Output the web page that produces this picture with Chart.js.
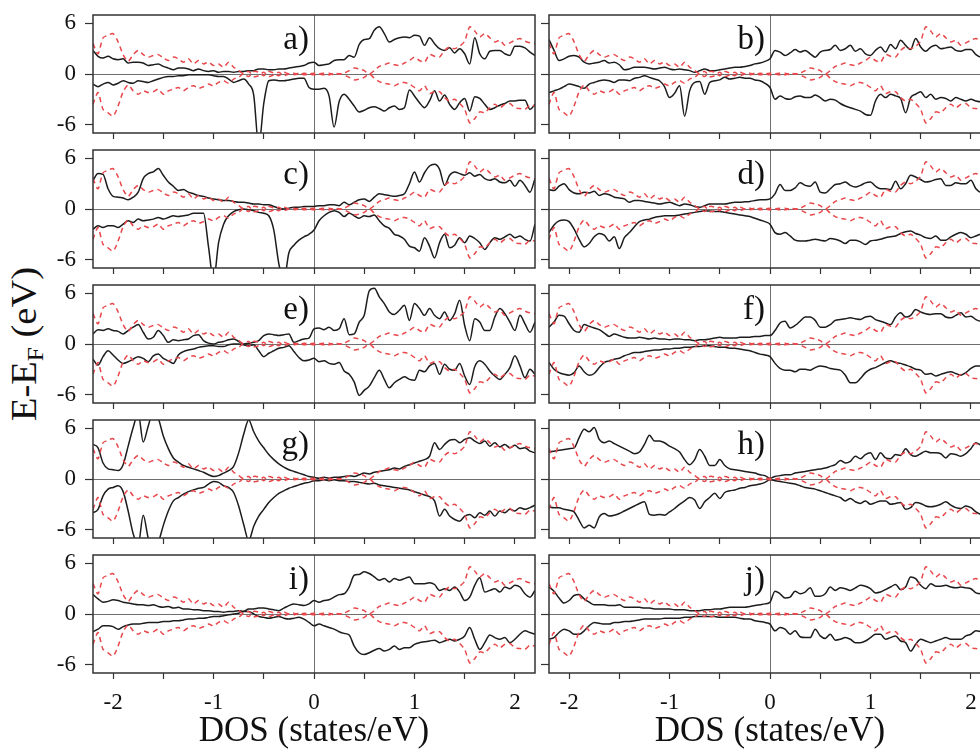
<!DOCTYPE html>
<html>
<head>
<meta charset="utf-8">
<script src="https://cdn.jsdelivr.net/npm/chart.js@4.4.1/dist/chart.umd.min.js"></script>
<style>
  html, body { margin: 0; padding: 0; background: #fff; width: 980px; height: 749px; overflow: hidden; }
  canvas { position: absolute; }
  #ytitle {
    position: absolute; left: 27px; top: 344px;
    transform: translate(-50%, -50%) rotate(-90deg) scaleX(1.1);
    font-family: 'Liberation Serif', 'Times New Roman', serif; font-size: 35px; color: #111;
    white-space: nowrap; line-height: 1;
  }
  #ytitle sub { font-size: 23px; vertical-align: -7px; }
</style>
</head>
<body>
<div id="ytitle">E-E<sub>F</sub> (eV)</div>
<script>
// x grid (DOS axis), shared by every curve
const dos = [
  -2.2, -2.15, -2.1, -2.05, -2.0, -1.95, -1.9, -1.85, -1.8, -1.75,
  -1.7, -1.65, -1.6, -1.55, -1.5, -1.45, -1.4, -1.35, -1.3, -1.25,
  -1.2, -1.15, -1.1, -1.05, -1.0, -0.95, -0.9, -0.85, -0.8, -0.75,
  -0.7, -0.65, -0.6, -0.55, -0.5, -0.45, -0.4, -0.35, -0.3, -0.25,
  -0.2, -0.15, -0.1, -0.05, 0, 0.05, 0.1, 0.15, 0.2, 0.25,
  0.3, 0.35, 0.4, 0.45, 0.5, 0.55, 0.6, 0.65, 0.7, 0.75,
  0.8, 0.85, 0.9, 0.95, 1.0, 1.05, 1.1, 1.15, 1.2, 1.25,
  1.3, 1.35, 1.4, 1.45, 1.5, 1.55, 1.6, 1.65, 1.7, 1.75,
  1.8, 1.85, 1.9, 1.95, 2.0, 2.05, 2.1, 2.15, 2.2
];
const xTicks = [-2, -1.5, -1, -0.5, 0, 0.5, 1, 1.5, 2];
const yTicks = [-6, -3, 0, 3, 6];
const panelLabels = ['a)', 'b)', 'c)', 'd)', 'e)', 'f)', 'g)', 'h)', 'i)', 'j)'];

// red dashed reference curves (same in every panel)
const redUp = [
  3.6, 2.4, 4.3, 4.6, 4.8, 3.8, 2.3, 1.5, 2.3, 2.8,
  2.3, 2.0, 2.2, 2.3, 1.9, 1.6, 2.0, 1.8, 1.4, 1.8,
  1.2, 1.6, 1.2, 1.4, 1.0, 1.2, 0.8, 1.4, 0.8, 0.4,
  0.0, -0.3, 0.3, 0.2, -0.2, 0.3, 0.1, -0.2, 0.2, 0.0,
  0.1, -0.1, 0.1, 0.0, 0.1, 0.0, 0.1, -0.1, 0.1, 0.0,
  0.1, 0.4, 0.7, 0.6, 0.4, 0.0, 0.4, 0.9, 1.1, 1.3,
  1.1, 1.0, 1.3, 1.6, 2.0, 1.6, 1.4, 2.3, 2.1, 2.0,
  2.8, 3.2, 3.0, 3.3, 3.9, 5.6, 5.1, 4.4, 4.8, 4.3,
  3.8, 4.0, 3.4, 3.7, 4.0, 4.2, 3.9, 3.7, 3.6
];
const redDn = [
  -3.6, -2.2, -4.2, -4.6, -5.0, -3.8, -2.1, -1.3, -2.0, -2.4,
  -2.0, -2.2, -2.1, -1.8, -2.4, -2.0, -1.8, -1.6, -2.0, -1.6,
  -1.4, -1.7, -1.5, -1.2, -1.4, -1.0, -0.8, -1.1, -0.6, -0.4,
  0.1, 0.3, -0.3, -0.2, 0.2, -0.3, -0.1, 0.2, -0.2, 0.0,
  -0.1, 0.1, -0.1, 0.0, -0.1, 0.0, -0.1, 0.1, -0.1, 0.0,
  -0.1, -0.4, -0.7, -0.6, -0.4, 0.0, -0.5, -0.9, -1.1, -1.2,
  -1.4, -1.1, -1.0, -1.2, -1.6, -2.0, -1.4, -2.3, -2.1, -2.1,
  -2.8, -3.2, -3.0, -3.5, -4.2, -5.8, -5.3, -4.5, -4.6, -4.0,
  -3.6, -4.0, -3.6, -3.5, -4.0, -4.1, -4.2, -3.7, -3.8
];

// black curves, one pair per panel
const aUp = [
  2.8, 2.1, 1.9, 2.1, 1.8, 1.7, 1.8, 1.3, 1.4, 1.4,
  1.3, 1.0, 1.1, 1.2, 0.9, 0.7, 0.5, 0.7, 0.7, 0.6,
  0.4, 0.6, 0.4, 0.3, 0.4, 0.2, 0.3, 0.3, 0.2, 0.3,
  0.3, 0.4, 0.4, 0.6, 0.6, 0.5, 0.5, 0.6, 0.6, 0.7,
  0.8, 0.9, 1.0, 1.3, 1.4, 1.0, 1.1, 1.2, 1.6, 1.7,
  1.7, 2.2, 2.0, 3.5, 4.1, 4.2, 5.2, 5.6, 4.8, 3.8,
  4.1, 4.3, 4.4, 4.3, 4.6, 4.5, 3.4, 4.3, 3.6, 3.0,
  2.8, 3.1, 2.5, 3.0, 2.4, 1.2, 4.3, 2.4, 1.8, 2.7,
  2.8, 2.8, 2.4, 2.2, 3.3, 3.3, 3.1, 2.6, 2.2
];
const aDn = [
  -1.2, -1.5, -1.2, -1.0, -1.3, -1.1, -0.8, -1.0, -1.1, -0.8,
  -0.9, -1.0, -0.8, -0.6, -0.4, -0.3, -0.3, -0.2, -0.2, -0.1,
  -0.1, -0.1, -0.1, -0.1, -0.2, -0.3, -0.3, -0.6, -1.0, -0.8,
  -0.6, -1.2, -2.5, -8.5, -3.5, -0.8, -0.7, -0.8, -0.8, -0.7,
  -0.6, -0.5, -0.5, -1.6, -1.8, -1.8, -1.7, -2.6, -6.3, -3.3,
  -2.4, -3.0, -3.8, -4.5, -4.3, -4.0, -3.9, -4.1, -4.4, -4.0,
  -3.8, -4.2, -4.0, -1.9, -2.6, -3.4, -4.0, -3.2, -2.0, -3.2,
  -2.5, -3.6, -4.2, -3.4, -2.9, -4.4, -2.7, -2.9, -3.6, -4.2,
  -4.0, -3.7, -3.5, -3.2, -3.2, -3.1, -3.1, -4.2, -3.6
];
const bUp = [
  4.1, 2.8, 1.6, 1.8, 2.1, 2.2, 2.0, 1.4, 1.2, 1.3,
  1.4, 1.6, 1.3, 1.4, 1.1, 0.5, 0.6, 0.8, 0.8, 0.8,
  0.7, 0.6, 0.7, 0.8, 0.6, 0.5, 0.6, 0.5, 0.4, 0.2,
  0.4, 0.6, 0.4, 0.4, 0.5, 0.6, 0.7, 0.8, 0.8, 0.9,
  1.0, 1.2, 1.3, 1.5, 1.8, 2.8, 2.6, 2.2, 2.5, 2.9,
  2.6, 2.8, 2.4, 2.0, 2.6, 2.8, 2.9, 3.4, 2.8, 3.0,
  3.4, 2.7, 3.0, 2.4, 2.2, 2.8, 3.2, 2.6, 3.5, 3.0,
  4.0, 3.4, 2.9, 4.2, 3.2, 2.7, 3.2, 3.4, 3.0, 3.1,
  3.2, 2.8, 2.7, 2.9, 2.9, 2.3, 2.0, 2.2, 2.4
];
const bDn = [
  -2.2, -2.0, -1.8, -1.5, -1.2, -1.3, -1.5, -1.7, -1.2, -1.0,
  -0.8, -0.7, -0.8, -1.0, -0.7, -0.7, -0.8, -0.5, -0.4, -0.2,
  -0.4, -0.6, -0.8, -1.5, -2.8, -2.3, -1.4, -5.0, -2.0, -1.0,
  -0.9, -2.4, -1.0, -0.8, -0.7, -0.4, -0.6, -0.5, -0.4, -0.5,
  -0.5, -0.7, -0.8, -1.1, -1.6, -3.0, -2.6, -2.9, -3.0, -2.7,
  -2.6, -2.8, -2.8, -2.5, -2.8, -3.2, -3.0, -3.1, -3.5, -3.8,
  -4.0, -4.2, -4.4, -4.8, -4.9, -3.2, -2.4, -2.8, -2.4, -2.6,
  -2.9, -4.6, -2.8, -2.4, -2.1, -2.8, -2.4, -3.0, -2.8, -2.9,
  -3.2, -2.8, -3.0, -3.2, -3.0, -3.2, -3.3, -3.2, -3.1
];
const cUp = [
  3.4, 4.2, 4.1, 2.4, 1.5, 1.4, 1.3, 1.1, 1.4, 2.0,
  3.6, 4.2, 4.4, 4.8, 4.0, 3.2, 2.7, 2.2, 2.3, 2.0,
  1.8, 1.6, 1.5, 1.3, 1.2, 1.1, 1.0, 1.0, 0.9, 0.8,
  0.8, 0.7, 0.6, 0.6, 0.5, 0.5, 0.3, 0.1, 0.0, 0.1,
  0.2, 0.2, 0.3, 0.3, 0.3, 0.4, 0.4, 0.5, 0.5, 0.4,
  0.8, 0.5, 0.8, 1.1, 1.2, 0.9, 1.4, 1.8, 1.7, 1.6,
  1.5, 1.6, 1.8, 3.0, 4.4, 3.2, 4.3, 5.1, 5.3, 4.7,
  2.8, 4.0, 4.4, 4.2, 4.0, 4.3, 3.9, 4.1, 3.6, 3.4,
  3.6, 3.2, 3.1, 3.4, 2.7, 3.4, 2.8, 2.0, 3.6
];
const cDn = [
  -2.4, -2.0, -2.2, -2.0, -2.0, -2.2, -1.8, -1.4, -1.6, -1.2,
  -1.4, -1.3, -1.2, -1.0, -1.2, -1.0, -0.8, -0.9, -0.8, -0.7,
  -0.5, -0.5, -0.5, -4.5, -8.5, -4.0, -1.8, -0.8, -0.3, -0.1,
  0.0, -0.1, -0.2, -0.4, -0.5, -0.8, -2.5, -6.5, -8.5, -5.2,
  -4.3, -3.7, -3.3, -3.0, -2.5, -1.4, -0.8, -0.4, -0.2, -0.4,
  -0.9, -0.5, -0.8, -1.1, -0.8, -0.9, -0.7, -1.4, -2.0, -2.3,
  -3.0, -3.2, -3.6, -4.4, -4.6, -5.0, -3.4, -4.4, -5.8, -4.0,
  -3.0, -4.6, -4.3, -3.4, -4.0, -3.2, -3.5, -4.0, -4.8, -4.0,
  -3.4, -3.6, -3.3, -3.0, -3.4, -3.2, -3.6, -3.8, -1.8
];
const dUp = [
  2.3, 2.2, 2.7, 3.0, 2.3, 1.9, 1.8, 2.0, 1.9, 2.1,
  1.6, 1.8, 1.7, 1.4, 1.3, 1.2, 0.8, 1.0, 1.0, 0.9,
  0.8, 0.7, 0.6, 0.7, 0.8, 0.6, 0.4, 0.6, 0.5, 0.3,
  0.2, 0.4, 0.6, 0.6, 0.6, 0.6, 0.7, 0.8, 0.8, 0.85,
  0.9, 1.0, 1.1, 1.1, 1.2, 1.8, 2.9, 2.2, 2.2, 2.5,
  3.1, 2.8, 2.7, 3.2, 2.0, 1.9, 2.4, 2.9, 3.0, 3.2,
  2.8, 2.6, 2.8, 3.1, 3.2, 2.7, 2.4, 2.4, 2.3, 3.3,
  2.4, 3.0, 4.0, 3.8, 3.5, 3.2, 3.3, 3.5, 3.6, 2.8,
  2.8, 3.1, 3.0, 3.0, 3.4, 2.4, 2.0, 2.2, 2.4
];
const dDn = [
  -2.8, -1.9, -1.4, -1.3, -1.5, -2.4, -3.6, -4.5, -4.1, -3.3,
  -2.9, -3.1, -3.8, -3.3, -4.7, -3.4, -2.8, -2.1, -1.5, -1.3,
  -1.2, -1.0, -0.9, -0.8, -0.8, -0.8, -0.7, -0.6, -0.5, -0.4,
  -0.3, -0.2, -0.25, -0.3, -0.3, -0.4, -0.5, -0.6, -0.7, -0.8,
  -0.9, -1.1, -1.3, -1.5, -1.8, -2.8, -3.0, -2.8, -3.2, -3.7,
  -3.8, -3.8, -3.7, -3.6, -3.7, -3.8, -3.5, -3.6, -3.8, -4.1,
  -3.7, -3.7, -3.9, -4.2, -3.8, -3.7, -3.6, -3.4, -3.3, -3.2,
  -2.9, -2.7, -2.6, -2.9, -3.1, -3.4, -3.5, -3.2, -3.7, -3.7,
  -3.3, -3.0, -2.8, -3.0, -3.4, -3.2, -3.0, -3.1, -3.2
];
const eUp = [
  1.2, 1.7, 1.6, 1.8, 1.6, 1.5, 1.2, 1.6, 2.0, 2.3,
  1.4, 0.6, 0.8, 1.6, 1.0, 0.2, 0.5, 0.4, 0.5, 0.6,
  1.0, 1.1, 0.4, 0.1, 0.0, 0.2, 0.3, 0.5, 0.6, 0.3,
  0.0, 0.1, 0.2, 0.4, 1.0, 1.2, 1.1, 1.0, 1.1, 1.2,
  0.2, 0.4, 0.6, 0.7, 1.8, 1.9, 1.7, 2.0, 1.6, 1.8,
  3.0, 1.1, 1.2, 2.6, 3.4, 6.3, 6.6, 5.6, 4.8, 3.8,
  3.5, 4.0, 4.6, 2.8, 4.8, 4.2, 3.4, 4.2, 3.4, 3.0,
  3.8, 2.8, 3.6, 5.2, 2.2, 0.4, 3.0, 2.6, 1.6, 1.6,
  3.2, 4.2, 3.6, 2.6, 1.6, 3.4, 2.4, 1.4, 2.6
];
const eDn = [
  -1.8, -2.5, -1.5, -0.8, -1.3, -1.9, -2.3, -2.1, -1.8, -1.5,
  -1.7, -2.1, -1.4, -1.2, -1.7, -2.0, -2.3, -1.3, -0.9, -0.7,
  -0.6, -0.4, -0.3, -0.2, -0.2, -0.3, -0.3, -0.1, 0.0, 0.0,
  -0.1, -0.2, -0.1, -0.8, -1.5, -1.1, -0.8, -0.5, -0.4, -0.2,
  -0.9, -1.6, -2.0, -1.9, -1.7, -2.1, -2.0, -2.3, -2.4, -2.2,
  -3.2, -3.6, -4.5, -6.1, -5.5, -5.0, -4.0, -3.1, -4.2, -5.2,
  -4.6, -4.2, -3.9, -4.2, -4.3, -3.1, -3.3, -2.6, -2.3, -3.6,
  -2.4, -3.0, -3.1, -2.3, -3.8, -4.8, -2.7, -2.0, -2.4, -3.2,
  -3.8, -4.2, -3.6, -2.8, -1.4, -2.6, -4.0, -3.0, -3.6
];
const fUp = [
  2.0, 2.6, 3.4, 3.3, 2.4, 1.6, 1.4, 2.3, 2.1, 1.9,
  1.7, 1.3, 0.9, 1.2, 1.0, 0.8, 0.7, 0.7, 0.8, 0.7,
  0.6, 0.7, 0.6, 0.6, 0.5, 0.6, 0.6, 0.5, 0.5, 0.4,
  0.5, 0.5, 0.6, 0.7, 0.8, 0.7, 0.7, 0.7, 0.8, 0.8,
  0.8, 0.9, 0.9, 1.0, 1.0, 1.6, 2.5, 2.7, 1.9, 2.2,
  2.7, 3.2, 3.2, 2.8, 2.0, 2.0, 2.3, 2.8, 2.9, 3.0,
  3.1, 3.0, 2.9, 3.2, 3.3, 2.9, 2.7, 2.5, 2.3, 3.2,
  3.7, 3.2, 3.4, 4.1, 3.8, 3.6, 3.5, 3.6, 3.6, 3.2,
  3.1, 3.4, 3.7, 3.2, 3.3, 2.9, 2.7, 2.8, 3.0
];
const fDn = [
  -2.2, -3.0, -3.4, -3.6, -3.7, -3.4, -2.6, -3.3, -3.7, -3.5,
  -2.8, -2.2, -2.0, -1.8, -1.7, -1.4, -1.2, -1.0, -1.0, -0.9,
  -0.8, -0.7, -0.7, -0.6, -0.6, -0.5, -0.5, -0.4, -0.4, -0.3,
  -0.3, -0.2, -0.2, -0.3, -0.4, -0.4, -0.5, -0.5, -0.6, -0.7,
  -0.8, -1.0, -1.2, -1.3, -1.5, -2.3, -2.9, -3.1, -3.1, -3.3,
  -3.0, -3.0, -3.1, -2.8, -2.6, -2.7, -2.9, -3.0, -3.1, -3.7,
  -4.6, -4.6, -4.1, -3.4, -3.0, -2.8, -2.5, -2.2, -2.0, -2.2,
  -2.3, -2.5, -2.7, -3.0, -3.1, -3.6, -3.5, -3.8, -3.6, -3.4,
  -3.3, -3.5, -3.7, -3.4, -2.9, -2.6, -2.6, -2.7, -2.8
];
const gUp = [
  4.1, 3.7, 1.9, 1.2, 1.1, 1.0, 1.7, 3.9, 6.1, 7.8,
  4.4, 6.3, 8.0, 7.2, 5.1, 3.6, 2.5, 2.0, 1.6, 1.4,
  1.2, 1.0, 0.8, 0.5, 0.3, 0.4, 0.7, 1.0, 1.5, 3.1,
  5.3, 7.0, 5.6, 4.5, 3.7, 2.9, 2.3, 1.8, 1.4, 1.1,
  0.9, 0.7, 0.5, 0.3, 0.2, 0.1, 0.2, 0.1, 0.2, 0.2,
  0.3, 0.4, 0.3, 0.5, 0.7, 0.6, 0.8, 0.9, 1.0, 1.1,
  1.3, 1.2, 1.5, 1.7, 1.9, 2.1, 2.3, 2.7, 4.3, 3.5,
  4.1, 4.6, 4.7, 4.3, 4.7, 4.9, 4.5, 4.2, 4.5, 3.9,
  4.3, 3.8, 4.1, 3.7, 4.0, 3.6, 3.7, 3.3, 3.1
];
const gDn = [
  -4.0, -3.6, -2.0, -1.2, -1.0, -0.8, -1.5, -3.8, -6.5, -7.8,
  -4.3, -7.0, -8.0, -7.5, -5.5, -3.8, -2.6, -2.2, -1.8, -1.5,
  -1.3, -1.1, -1.0, -0.6, -0.3, -0.4, -0.8, -1.0, -1.6, -3.2,
  -5.4, -7.3, -5.6, -4.4, -3.6, -2.8, -2.2, -1.7, -1.4, -1.1,
  -0.9, -0.7, -0.5, -0.4, -0.2, -0.2, -0.1, -0.2, -0.1, -0.2,
  -0.2, -0.3, -0.3, -0.4, -0.5, -0.6, -0.5, -0.7, -0.8, -0.9,
  -1.0, -1.1, -1.2, -1.3, -1.5, -1.7, -1.9, -2.1, -2.6, -4.4,
  -3.6, -4.4, -4.8, -5.0, -4.4, -4.2, -4.6, -4.0, -4.3, -3.8,
  -4.4, -3.8, -4.0, -3.6, -3.8, -3.4, -3.6, -3.4, -3.1
];
const hUp = [
  3.2, 3.3, 3.4, 3.5, 3.6, 3.7, 4.9, 5.9, 5.6, 6.1,
  4.7, 4.3, 4.5, 4.2, 3.9, 3.6, 3.3, 3.0, 3.2, 4.1,
  5.2, 4.5, 4.5, 4.3, 3.9, 3.6, 3.2, 2.3, 1.7, 2.3,
  3.5, 2.7, 1.6, 1.6, 2.3, 1.6, 1.2, 1.1, 1.0, 0.9,
  0.8, 0.7, 0.5, 0.4, 0.1, 0.3, 0.4, 0.5, 0.5, 0.7,
  0.8, 0.9, 1.0, 1.1, 1.2, 1.3, 1.5, 1.7, 2.2, 1.9,
  2.1, 2.7, 2.4, 2.9, 3.1, 2.3, 3.1, 2.5, 2.4, 2.9,
  2.8, 3.6, 2.9, 2.7, 3.0, 3.3, 3.1, 3.1, 3.0, 2.5,
  3.0, 2.9, 2.7, 3.0, 3.6, 4.3, 4.0, 3.8, 3.6
];
const hDn = [
  -3.3, -3.4, -3.4, -3.6, -3.7, -3.9, -4.9, -5.8, -5.5, -5.8,
  -4.5, -4.1, -4.4, -4.3, -4.1, -3.8, -3.5, -3.2, -2.9, -2.7,
  -4.2, -4.3, -4.2, -4.3, -3.9, -3.5, -3.0, -2.6, -2.2, -2.5,
  -3.5, -2.7, -2.2, -1.7, -2.3, -1.6, -1.4, -1.3, -1.1, -1.0,
  -0.8, -0.7, -0.6, -0.4, -0.1, -0.2, -0.3, -0.4, -0.5, -0.6,
  -0.8, -1.0, -1.1, -1.2, -1.4, -1.6, -1.8, -2.0, -2.2, -2.6,
  -2.3, -2.7, -2.9, -2.6, -3.0, -2.8, -2.6, -2.6, -3.0, -2.9,
  -2.8, -3.6, -3.4, -2.8, -2.9, -3.2, -3.3, -3.2, -3.0, -2.7,
  -3.1, -3.4, -3.5, -3.2, -3.4, -3.9, -4.2, -4.0, -3.8
];
const iUp = [
  2.3, 1.8, 1.4, 1.5, 1.7, 1.6, 1.4, 1.3, 1.2, 1.1,
  1.1, 1.0, 1.1, 0.9, 0.8, 0.9, 0.7, 0.8, 0.6, 0.6,
  0.5, 0.5, 0.4, 0.4, 0.3, 0.3, 0.2, 0.3, 0.3, 0.4,
  0.3, 0.6, 0.6, 0.7, 0.7, 0.6, 0.5, 0.4, 0.7, 1.0,
  1.2, 1.1, 1.0, 1.2, 1.6, 1.4, 1.6, 1.7, 2.0, 2.3,
  2.4, 3.2, 4.6, 4.7, 5.0, 4.8, 4.4, 4.0, 4.2, 3.8,
  4.2, 4.0, 4.2, 4.4, 3.6, 3.6, 3.6, 3.7, 3.5, 2.8,
  3.0, 2.8, 3.2, 2.6, 1.6, 2.0, 3.4, 4.3, 2.6, 2.8,
  3.0, 2.6, 3.2, 3.0, 3.4, 3.2, 2.4, 2.0, 2.8
];
const iDn = [
  -2.1, -1.8, -1.4, -1.4, -1.5, -1.8, -1.5, -1.3, -1.2, -1.2,
  -1.1, -1.0, -1.0, -1.0, -0.9, -0.9, -0.8, -0.8, -0.7, -0.6,
  -0.6, -0.5, -0.5, -0.4, -0.3, -0.3, -0.2, -0.1, 0.0, 0.1,
  0.3, 0.3, 0.0, -0.3, -0.4, -0.5, -0.4, -0.3, -0.5, -0.6,
  -0.5, -0.4, -0.6, -1.0, -1.4, -1.2, -1.4, -1.6, -1.8, -2.1,
  -2.3, -2.5, -3.8, -4.6, -4.8, -4.6, -4.3, -4.1, -4.4, -4.2,
  -3.8, -4.2, -4.0, -4.0, -3.6, -3.4, -3.3, -3.2, -3.1, -3.4,
  -3.2, -3.0, -3.2, -3.0, -2.6, -1.6, -3.0, -4.2, -3.4, -2.5,
  -2.8, -3.0, -2.8, -3.4, -3.0, -2.4, -2.0, -2.2, -2.4
];
const jUp = [
  3.2, 2.7, 1.9, 1.3, 1.6, 2.2, 2.3, 1.8, 1.4, 1.1,
  1.1, 1.1, 1.0, 1.0, 1.1, 0.8, 0.8, 0.8, 0.8, 0.7,
  0.7, 0.6, 0.6, 0.6, 0.6, 0.5, 0.5, 0.5, 0.4, 0.4,
  0.4, 0.5, 0.5, 0.6, 0.6, 0.7, 0.8, 0.8, 0.8, 0.8,
  0.9, 1.0, 1.1, 1.2, 1.4, 2.7, 2.4, 1.9, 2.0, 2.7,
  2.4, 2.6, 3.1, 2.1, 2.1, 2.4, 3.2, 2.8, 3.1, 3.0,
  2.8, 3.1, 3.4, 3.3, 3.0, 2.5, 2.6, 2.9, 3.2, 3.5,
  2.9, 3.2, 4.4, 4.2, 3.4, 3.0, 3.6, 3.3, 3.3, 3.4,
  3.2, 3.1, 3.2, 3.1, 3.0, 2.5, 2.4, 2.5, 2.6
];
const jDn = [
  -3.0, -2.8, -2.2, -1.8, -2.0, -2.4, -2.4, -2.0, -1.4, -1.0,
  -1.1, -1.2, -1.2, -1.0, -1.0, -0.9, -0.9, -0.8, -0.7, -0.6,
  -0.6, -0.6, -0.6, -0.5, -0.5, -0.5, -0.5, -0.4, -0.4, -0.3,
  -0.3, -0.3, -0.3, -0.3, -0.4, -0.4, -0.4, -0.4, -0.5, -0.6,
  -0.6, -0.8, -0.9, -1.0, -1.2, -2.0, -1.6, -1.8, -2.4, -2.0,
  -2.7, -2.8, -2.8, -1.8, -2.6, -2.9, -2.4, -3.1, -3.0, -2.8,
  -3.0, -3.4, -3.4, -3.2, -2.8, -2.4, -2.4, -3.0, -2.8, -2.6,
  -3.2, -3.4, -4.4, -3.6, -3.0, -3.2, -3.4, -3.2, -3.0, -2.8,
  -3.0, -3.0, -3.0, -2.6, -2.4, -2.0, -2.1, -2.2, -2.3
];

const panels = [
  [aUp, aDn], [bUp, bDn], [cUp, cDn], [dUp, dDn], [eUp, eDn],
  [fUp, fDn], [gUp, gDn], [hUp, hDn], [iUp, iDn], [jUp, jDn]
];

const serif = "'Liberation Serif', 'Times New Roman', serif";
const red = '#e8474b';
const black = '#1c1c1c';
const zeroColor = '#6f6f6f';

// frame round the plot area + panel letter
const framePlugin = {
  id: 'frame',
  afterDatasetsDraw(chart, args, opts) {
    const { ctx, chartArea: a, scales } = chart;
    ctx.save();
    ctx.strokeStyle = '#333';
    ctx.lineWidth = 1.5;
    ctx.strokeRect(a.left, a.top, a.right - a.left, a.bottom - a.top);
    ctx.fillStyle = '#111';
    ctx.font = '33px ' + serif;
    ctx.textAlign = 'right';
    ctx.textBaseline = 'alphabetic';
    ctx.fillText(opts.label, scales.x.getPixelForValue(0) - 5, a.top + 34);
    ctx.restore();
  }
};

function points(ys) {
  return ys.map((y, i) => ({ x: dos[i], y: y }));
}

function gridOpts(len) {
  return {
    drawOnChartArea: true,
    color: c => (c.tick && c.tick.value === 0 ? zeroColor : 'rgba(0,0,0,0)'),
    lineWidth: 1,
    tickColor: '#333',
    tickWidth: 1.2,
    tickLength: len
  };
}

// keep the plot area exactly where the layout puts it
function noPad(s) {
  s.paddingTop = 0; s.paddingBottom = 0; s.paddingLeft = 0; s.paddingRight = 0;
}

panels.forEach((pair, idx) => {
  const row = Math.floor(idx / 2);
  const col = idx % 2;
  const top = 15 + 135 * row;
  const last = row === 4;

  const cv = document.createElement('canvas');
  cv.width = col === 0 ? 540 : 455;
  cv.height = last ? 749 - (top - 6) : 132;
  cv.style.left = (col === 0 ? 0 : 540) + 'px';
  cv.style.top = (top - 6) + 'px';
  document.body.appendChild(cv);

  const redStyle = { borderColor: red, borderWidth: 1.5, borderDash: [5, 4], pointRadius: 0, tension: 0.25 };
  const blackStyle = { borderColor: black, borderWidth: 1.5, pointRadius: 0, cubicInterpolationMode: 'monotone' };

  new Chart(cv.getContext('2d'), {
    type: 'line',
    data: {
      datasets: [
        Object.assign({ data: points(redUp) }, redStyle),
        Object.assign({ data: points(redDn) }, redStyle),
        Object.assign({ data: points(pair[0]) }, blackStyle),
        Object.assign({ data: points(pair[1]) }, blackStyle)
      ]
    },
    options: {
      responsive: false,
      animation: false,
      events: [],
      layout: { padding: { top: 6, right: col === 0 ? 5 : 4, left: 0, bottom: 0 } },
      plugins: {
        legend: { display: false },
        tooltip: { enabled: false },
        frame: { label: panelLabels[idx] }
      },
      scales: {
        x: {
          type: 'linear',
          min: -2.2,
          max: 2.2,
          afterBuildTicks: s => { s.ticks = xTicks.map(v => ({ value: v })); },
          afterFit: s => { s.height = last ? 76 : 8; noPad(s); },
          grid: gridOpts(6),
          border: { display: false },
          ticks: {
            autoSkip: false,
            maxRotation: 0,
            padding: 10,
            color: '#111',
            font: { family: serif, size: 23 },
            callback: v => (last && Number.isInteger(v) ? String(v) : '')
          },
          title: {
            display: last,
            text: 'DOS (states/eV)',
            color: '#111',
            font: { family: serif, size: 35, lineHeight: 1 },
            padding: 0
          }
        },
        y: {
          type: 'linear',
          min: -7,
          max: 7,
          afterBuildTicks: s => { s.ticks = yTicks.map(v => ({ value: v })); },
          afterFit: s => { s.width = col === 0 ? 93 : 9; noPad(s); },
          grid: gridOpts(8),
          border: { display: false },
          ticks: {
            padding: 9,
            color: '#111',
            font: { family: serif, size: 23 },
            callback: v => (col === 0 && v % 6 === 0 ? String(v) : '')
          }
        }
      }
    },
    plugins: [framePlugin]
  });
});
</script>
</body>
</html>
